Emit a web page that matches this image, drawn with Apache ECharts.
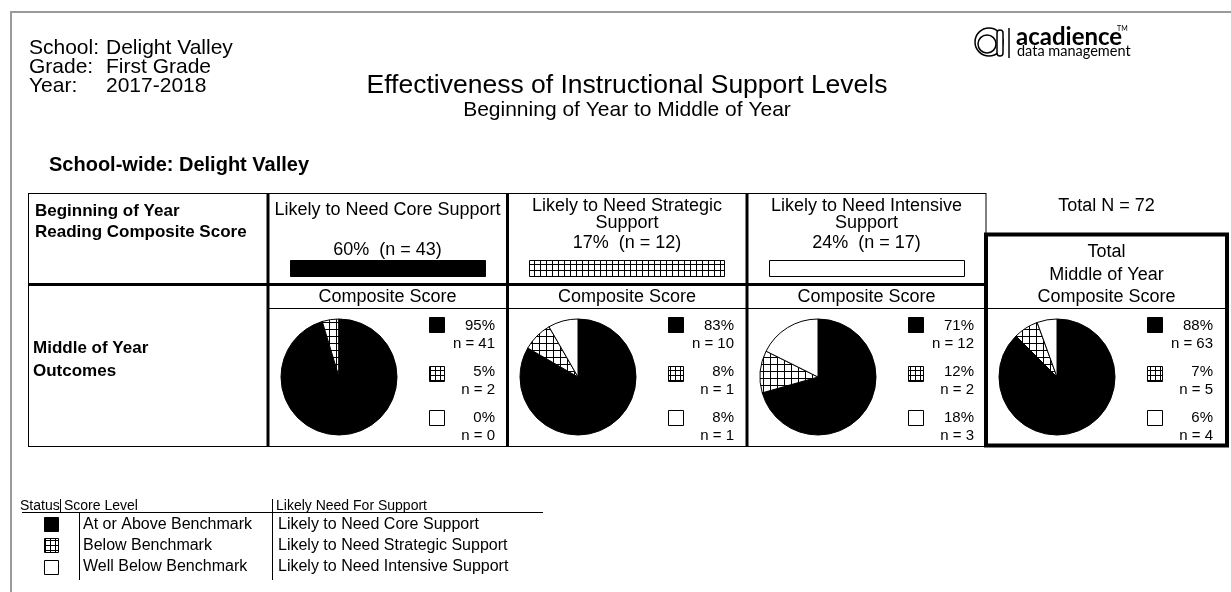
<!DOCTYPE html>
<html><head><meta charset="utf-8">
<script src="https://cdn.jsdelivr.net/npm/echarts@6/dist/echarts.min.js"></script>
<style>html,body{margin:0;padding:0;background:#fff}#c{width:1231px;height:592px}</style>
</head><body><div id="c"></div>
<script>
// ---- data ----
const school = 'Delight Valley';
const grade = 'First Grade';
const year = '2017-2018';
const title = 'Effectiveness of Instructional Support Levels';
const subtitle = 'Beginning of Year to Middle of Year';
const sectionTitle = 'School-wide: Delight Valley';
const headerLines = [['Likely to Need Core Support'], ['Likely to Need Strategic', 'Support'], ['Likely to Need Intensive', 'Support']];
const boyPct = [60, 17, 24];
const boyN = [43, 12, 17];
const totalN = 72;
const statusLevels = ['At or Above Benchmark', 'Below Benchmark', 'Well Below Benchmark'];
const supportNeeds = ['Likely to Need Core Support', 'Likely to Need Strategic Support', 'Likely to Need Intensive Support'];
const moyCoreN = [41, 2, 0];
const moyCorePct = [95, 5, 0];
const moyStrategicN = [10, 1, 1];
const moyStrategicPct = [83, 8, 8];
const moyIntensiveN = [12, 2, 3];
const moyIntensivePct = [71, 12, 18];
const moyTotalN = [63, 5, 4];
const moyTotalPct = [88, 7, 6];

// ---- drawing ----
const FF = '"Liberation Sans", Arial, Helvetica, sans-serif';
function gridPattern(cell) {
  const c = document.createElement('canvas');
  c.width = cell; c.height = cell;
  const g = c.getContext('2d');
  g.fillStyle = '#fff'; g.fillRect(0, 0, cell, cell);
  g.fillStyle = '#000'; g.fillRect(0, 0, cell, 1); g.fillRect(0, 0, 1, cell);
  return c;
}
const patPie = { image: gridPattern(7), repeat: 'repeat' };
const patBar = { image: gridPattern(6), repeat: 'repeat' };
const patSmall = { image: gridPattern(5), repeat: 'repeat' };
const pieFills = ['#000', patPie, '#fff'];
const swatchFills = ['#000', patSmall, '#fff'];
const barFills = ['#000', patBar, '#fff'];

const els = [];
function T(text, x, y, size, opt) {
  opt = opt || {};
  const a = opt.align || 'left';
  els.push({ type: 'text', silent: true, z: 10, style: {
    text: String(text), x: x, y: y, fontSize: size, fontFamily: opt.family || FF,
    fontWeight: opt.bold ? 'bold' : (opt.weight || 'normal'), fill: opt.color || '#000',
    textAlign: a, align: a, textVerticalAlign: 'middle', verticalAlign: 'middle' } });
}
function L(x1, y1, x2, y2, w, color) {
  els.push({ type: 'line', silent: true, z: 5, shape: { x1: x1, y1: y1, x2: x2, y2: y2 },
    style: { stroke: color || '#000', lineWidth: w } });
}
function R(x, y, w, h, fill, stroke, lw, z) {
  els.push({ type: 'rect', silent: true, z: z || 6, shape: { x: x, y: y, width: w, height: h },
    style: { fill: fill, stroke: stroke || null, lineWidth: lw || 0 } });
}

// frame
L(11, 12, 1231, 12, 2, '#9a9a9a');
L(11, 11, 11, 592, 2, '#9a9a9a');

// header
T('School:', 29, 48, 21); T(school, 106, 48, 21);
T('Grade:', 29, 67, 21); T(grade, 106, 67, 21);
T('Year:', 29, 86, 21); T(year, 106, 86, 21);
T(title, 627, 86, 26.5, { align: 'center' });
T(subtitle, 627, 110, 21, { align: 'center' });

// logo
els.push({ type: 'circle', silent: true, shape: { cx: 989, cy: 42, r: 14 }, style: { fill: 'none', stroke: '#000', lineWidth: 1.5 } });
els.push({ type: 'circle', silent: true, shape: { cx: 987, cy: 44, r: 9 }, style: { fill: 'none', stroke: '#000', lineWidth: 1.5 } });
els.push({ type: 'rect', silent: true, shape: { x: 997, y: 30, width: 6, height: 26, r: 3 }, style: { fill: '#fff', stroke: '#000', lineWidth: 1.5 } });
L(1009, 28, 1009, 58, 1.5);
T('acadience', 1016, 37, 24, { family: 'Lato, "Noto Sans", sans-serif', weight: 'bold' });
T('TM', 1117, 29, 7, { family: 'Lato, sans-serif' });
T('data management', 1017, 51, 14.5, { family: 'Lato, "Noto Sans", sans-serif' });

T(sectionTitle, 49, 165, 20, { bold: true });

// table
const colLefts = [268, 507, 747, 986];
const colCenters = [387.5, 627, 866.5];
L(28, 193.5, 986, 193.5, 1);
L(28.5, 193, 28.5, 447, 1);
L(986, 193, 986, 234, 1);
L(28, 284.5, 986, 284.5, 3);
[268, 507.5, 747].forEach(function (x) { L(x, 193, x, 447, 3); });
L(268, 308.5, 1227, 308.5, 1);
L(28, 446.5, 986, 446.5, 1);
R(986, 234.5, 241, 211, 'none', '#000', 4, 20);

T('Beginning of Year', 35, 211, 17, { bold: true });
T('Reading Composite Score', 35, 232, 17, { bold: true });
T('Middle of Year', 33, 348, 17, { bold: true });
T('Outcomes', 33, 371, 17, { bold: true });

headerLines.forEach(function (lines, i) {
  const cx = colCenters[i];
  if (lines.length === 1) {
    T(lines[0], cx, 210, 18, { align: 'center' });
    T(boyPct[i] + '%  (n = ' + boyN[i] + ')', cx, 250, 18, { align: 'center' });
  } else {
    T(lines[0], cx, 206, 18, { align: 'center' });
    T(lines[1], cx, 223, 18, { align: 'center' });
    T(boyPct[i] + '%  (n = ' + boyN[i] + ')', cx, 243, 18, { align: 'center' });
  }
  R(colLefts[i] + 22.5, 260.5, 195, 16, barFills[i], '#000', 1);
  T('Composite Score', cx, 297, 18, { align: 'center' });
});
T('Total N = ' + totalN, 1106.5, 206, 18, { align: 'center' });
T('Total', 1106.5, 252, 18, { align: 'center' });
T('Middle of Year', 1106.5, 275, 18, { align: 'center' });
T('Composite Score', 1106.5, 297, 18, { align: 'center' });

// pie legends
const moyN = [moyCoreN, moyStrategicN, moyIntensiveN, moyTotalN];
const moyPct = [moyCorePct, moyStrategicPct, moyIntensivePct, moyTotalPct];
const swTop = [317.5, 366.5, 410.5];
const pctY = [326, 372, 418];
const nY = [344, 390, 436];
colLefts.forEach(function (l, k) {
  for (let j = 0; j < 3; j++) {
    R(l + 161.5, swTop[j], 15, 15, swatchFills[j], '#000', 1);
    T(moyPct[k][j] + '%', l + 227, pctY[j], 15, { align: 'right' });
    T('n = ' + moyN[k][j], l + 227, nY[j], 15, { align: 'right' });
  }
});

// bottom key
T('Status', 20, 506, 14);
L(60.5, 499, 60.5, 512, 1);
T('Score Level', 64, 506, 14);
L(272.5, 499, 272.5, 512, 1);
T('Likely Need For Support', 276, 506, 14);
L(22, 512.5, 543, 512.5, 1);
L(79.5, 513, 79.5, 580, 1);
L(272.5, 513, 272.5, 580, 1);
const keyY = [525, 546, 567];
const keySw = [517.5, 538.5, 560.5];
statusLevels.forEach(function (s, j) {
  R(44.5, keySw[j], 14, 14, swatchFills[j], '#000', 1);
  T(s, 83, keyY[j], 16);
  T(supportNeeds[j], 278, keyY[j], 16);
});

const series = moyN.map(function (d, k) {
  return {
    type: 'pie', center: [colLefts[k] + 71, 377], radius: 58,
    startAngle: 90, clockwise: true, silent: true, animation: false,
    label: { show: false }, labelLine: { show: false }, emphasis: { disabled: true },
    itemStyle: { borderColor: '#000', borderWidth: 1 },
    data: d.map(function (v, j) { return { value: v, name: statusLevels[j], itemStyle: { color: pieFills[j] } }; })
  };
});

const chart = echarts.init(document.getElementById('c'), null, { renderer: 'canvas', width: 1231, height: 592 });
chart.setOption({ animation: false, backgroundColor: '#fff', series: series, graphic: { elements: els } });
</script></body></html>
